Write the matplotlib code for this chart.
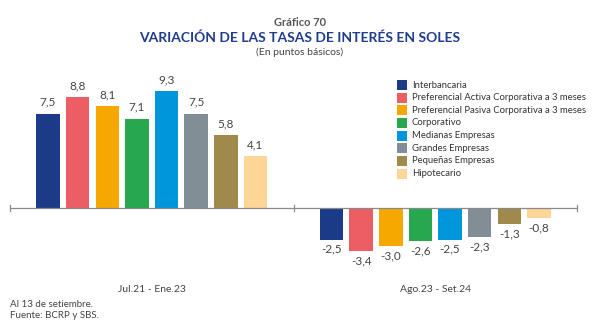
import matplotlib
matplotlib.use("Agg")
import matplotlib.pyplot as plt
from matplotlib.patches import Rectangle

plt.rcParams['font.family'] = ['Lato', 'DejaVu Sans']

periods = ["Jul.21 - Ene.23", "Ago.23 - Set.24"]
series = ["Interbancaria",
          "Preferencial Activa Corporativa a 3 meses",
          "Preferencial Pasiva Corporativa a 3 meses",
          "Corporativo",
          "Medianas Empresas",
          "Grandes Empresas",
          "Pequeñas Empresas",
          "Hipotecario"]
values = [
    [7.5, -2.5],
    [8.8, -3.4],
    [8.1, -3.0],
    [7.1, -2.6],
    [9.3, -2.5],
    [7.5, -2.3],
    [5.8, -1.3],
    [4.1, -0.8],
]
colors = ["#1B3A87", "#EC5E64", "#F6A700", "#27A84F",
          "#0096DC", "#828E96", "#A08A4B", "#FDD597"]

W, H = 600, 330
fig = plt.figure(figsize=(W / 100, H / 100), dpi=100)

# axes placed in pixel coordinates
ax_left, ax_right = 10, 577
ymin, ymax = -4.0, 10.0
px_per_unit = 12.6
zero_px = 208
top_px = zero_px - ymax * px_per_unit
bot_px = zero_px - ymin * px_per_unit
ax = fig.add_axes([ax_left / W, 1 - bot_px / H,
                   (ax_right - ax_left) / W, (bot_px - top_px) / H])
ax.set_xlim(0, 2)
ax.set_ylim(ymin, ymax)

step = 0.1046
width = 0.083
n = len(series)
for i, (name, vals, c) in enumerate(zip(series, values, colors)):
    for j, v in enumerate(vals):
        x = j + 0.5 + (i - (n - 1) / 2) * step
        ax.bar(x, v, width=width, color=c, linewidth=0)
        if v >= 0:
            ax.text(x, v + 0.45, f"{v:.1f}".replace(".", ","), ha="center",
                    va="bottom", fontsize=8.5, color="#444444")
        else:
            ax.text(x, v - 0.35, f"{v:.1f}".replace(".", ","), ha="center",
                    va="top", fontsize=8.5, color="#444444")

for s in ["top", "right", "left", "bottom"]:
    ax.spines[s].set_visible(False)
ax.axhline(0, color="#8a8a8a", linewidth=0.9)
for xt in [0, 1, 2]:
    ax.plot([xt, xt], [-0.25, 0.25], color="#8a8a8a", linewidth=0.9,
            clip_on=False)
ax.set_xticks([])
ax.set_yticks([])

for j, p in enumerate(periods):
    fig.text((ax_left + (j + 0.5) * (ax_right - ax_left) / 2) / W,
             1 - 290 / H, p, ha="center", va="center",
             fontsize=7.5, color="#444444")

# legend
leg_y0 = 85
leg_dy = 12.65
for i, (name, c) in enumerate(zip(series, colors)):
    y = leg_y0 + i * leg_dy
    fig.patches.append(Rectangle(
        (397 / W, 1 - (y + 5) / H), 10 / W, 10 / H,
        transform=fig.transFigure, color=c, linewidth=0))
    fig.text(412 / W, 1 - y / H, name, ha="left", va="center",
             fontsize=6.8, color="#333333")

# titles
fig.text(0.5, 1 - 22 / H, "Gráfico 70", ha="center", va="center",
         fontsize=8, fontweight="bold", color="#555555")
fig.text(0.5, 1 - 38 / H, "VARIACIÓN DE LAS TASAS DE INTERÉS EN SOLES",
         ha="center", va="center", fontsize=10, fontweight="bold",
         color="#1F3C8E")
fig.text(0.5, 1 - 52.5 / H, "(En puntos básicos)", ha="center",
         va="center", fontsize=7.5, color="#444444")

# notes
fig.text(10 / W, 1 - 304.5 / H, "Al 13 de setiembre.", ha="left",
         va="center", fontsize=7, color="#444444")
fig.text(10 / W, 1 - 315.5 / H, "Fuente: BCRP y SBS.", ha="left",
         va="center", fontsize=7, color="#444444")

fig.savefig("out.png", dpi=100, facecolor="white")
